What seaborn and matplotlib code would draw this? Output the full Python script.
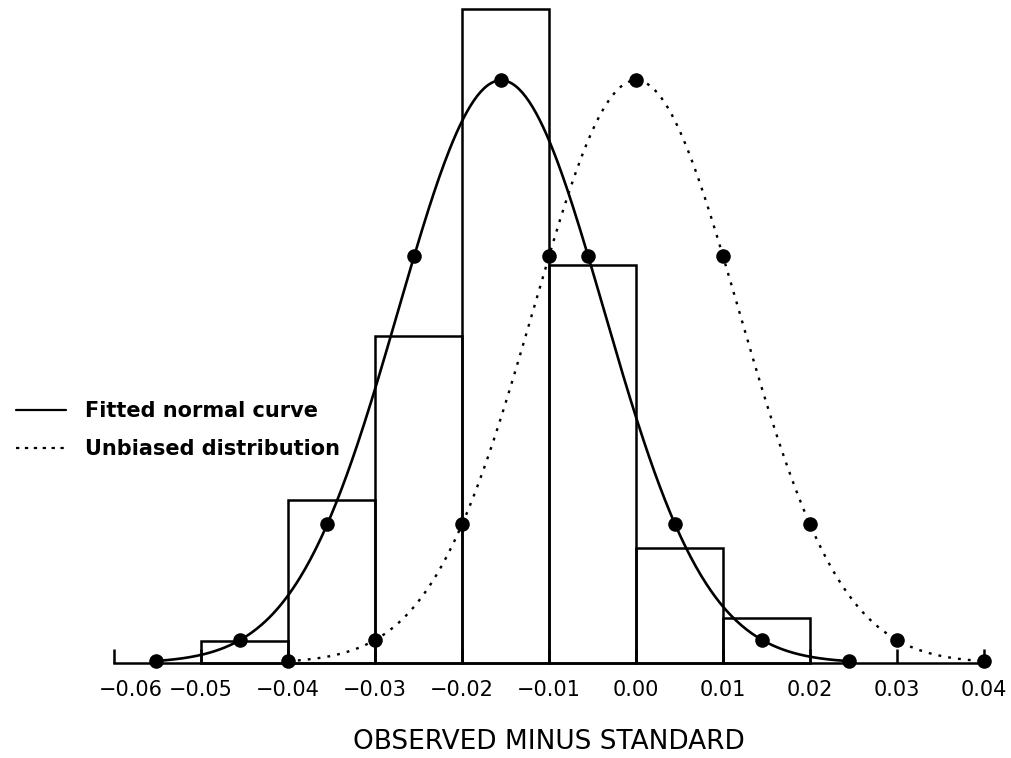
import numpy as np
import pandas as pd
import matplotlib
matplotlib.use("Agg")
import matplotlib.pyplot as plt
import matplotlib.transforms as mtransforms
from matplotlib.lines import Line2D
import seaborn as sns

# ---------------- data ----------------
bin_edges = [-0.05, -0.04, -0.03, -0.02, -0.01, 0.00, 0.01, 0.02]
bin_counts = [2.0, 15.0, 30.0, 60.0, 36.5, 10.6, 4.1]

fitted_mean = -0.0155
fitted_sd = 0.0118
unbiased_mean = 0.0
unbiased_sd = 0.0118

fitted_marker_x = [-0.0552, -0.0455, -0.0355, -0.0255, -0.0155, -0.0055, 0.0045, 0.0145, 0.0245]
unbiased_marker_x = [-0.04, -0.03, -0.02, -0.01, 0.00, 0.01, 0.02, 0.03, 0.04]

tick_values = [-0.06, -0.05, -0.04, -0.03, -0.02, -0.01, 0.00, 0.01, 0.02, 0.03, 0.04]
tick_labels = ["\u22120.06", "\u22120.05", "\u22120.04", "\u22120.03", "\u22120.02", "\u22120.01",
               "0.00", "0.01", "0.02", "0.03", "0.04"]
legend_labels = ["Fitted normal curve", "Unbiased distribution"]
x_title = "OBSERVED MINUS STANDARD"

# ---------------- figure ----------------
sns.set_style("white")
plt.rcParams["font.family"] = ["DejaVu Sans"]
plt.rcParams["text.color"] = "black"
plt.rcParams["axes.labelcolor"] = "black"
plt.rcParams["xtick.color"] = "black"

fig = plt.figure(figsize=(10.12, 7.58), dpi=100)
W, H = 1012, 758
ax = fig.add_axes([114 / W, 95 / H, 870 / W, 658 / H])

bin_width = 0.01
centers = [(a + b) / 2 for a, b in zip(bin_edges[:-1], bin_edges[1:])]
hist_df = pd.DataFrame({"x": centers, "w": bin_counts})
sns.histplot(data=hist_df, x="x", weights="w", bins=bin_edges, fill=False,
             element="bars", color="black", linewidth=1.8, ax=ax)
for p in ax.patches:
    p.set_clip_on(False)
    p.set_edgecolor("black")

area = sum(bin_counts) * bin_width


def normal_curve(x, mu, sd):
    x = np.asarray(x, dtype=float)
    return area / (sd * np.sqrt(2 * np.pi)) * np.exp(-0.5 * ((x - mu) / sd) ** 2)


xf = np.linspace(fitted_marker_x[0], fitted_marker_x[-1], 400)
xu = np.linspace(unbiased_marker_x[0], unbiased_marker_x[-1], 400)
fit_df = pd.DataFrame({"x": xf, "y": normal_curve(xf, fitted_mean, fitted_sd)})
unb_df = pd.DataFrame({"x": xu, "y": normal_curve(xu, unbiased_mean, unbiased_sd)})

sns.lineplot(data=fit_df, x="x", y="y", color="black", linewidth=1.9, ax=ax)
sns.lineplot(data=unb_df, x="x", y="y", color="black", linewidth=1.7,
             linestyle=(0, (1.2, 3.0)), ax=ax)

fm_df = pd.DataFrame({"x": fitted_marker_x, "y": normal_curve(fitted_marker_x, fitted_mean, fitted_sd)})
um_df = pd.DataFrame({"x": unbiased_marker_x, "y": normal_curve(unbiased_marker_x, unbiased_mean, unbiased_sd)})
sns.scatterplot(data=fm_df, x="x", y="y", color="black", s=110, edgecolor="black",
                linewidth=0, ax=ax, clip_on=False, zorder=5)
sns.scatterplot(data=um_df, x="x", y="y", color="black", s=110, edgecolor="black",
                linewidth=0, ax=ax, clip_on=False, zorder=5)

ax.set_xlim(-0.06, 0.04)
ax.set_ylim(0, 60.4)
for s in ["left", "top", "right"]:
    ax.spines[s].set_visible(False)
ax.spines["bottom"].set_color("black")
ax.spines["bottom"].set_linewidth(1.8)
ax.set_yticks([])
ax.set_ylabel("")

ax.set_xticks(tick_values)
ax.set_xticklabels(tick_labels, fontsize=15, color="black")
ax.tick_params(axis="x", bottom=True, direction="in", length=10, width=1.8, pad=12,
               colors="black", labelcolor="black")
first = ax.get_xticklabels()[0]
first.set_transform(first.get_transform() + mtransforms.ScaledTranslation(0.17, 0, fig.dpi_scale_trans))

ax.set_xlabel(x_title, fontsize=19, labelpad=21, color="black")

handles = [Line2D([0], [0], color="black", linewidth=1.6),
           Line2D([0], [0], color="black", linewidth=1.6, linestyle=(0, (1.5, 2.5)))]
leg = fig.legend(handles, legend_labels, loc="center left",
                 bbox_to_anchor=(6 / W, 1 - 430 / H), bbox_transform=fig.transFigure,
                 frameon=False, handlelength=2.4, handletextpad=0.9,
                 labelspacing=0.85, borderpad=0, prop={"size": 15, "weight": "bold"})
for t in leg.get_texts():
    t.set_color("black")

fig.savefig("out.png", dpi=100)
